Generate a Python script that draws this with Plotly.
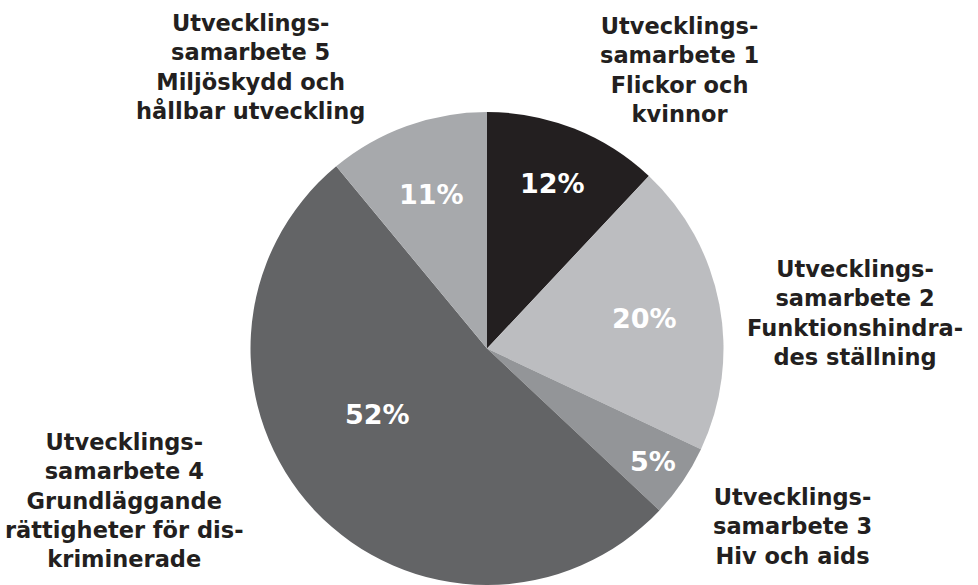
import math
import plotly.graph_objects as go

# ---- data ----
categories = [
    "Utvecklings-<br>samarbete 1<br>Flickor och<br>kvinnor",
    "Utvecklings-<br>samarbete 2<br>Funktionshindra-<br>des ställning",
    "Utvecklings-<br>samarbete 3<br>Hiv och aids",
    "Utvecklings-<br>samarbete 4<br>Grundläggande<br>rättigheter för dis-<br>kriminerade",
    "Utvecklings-<br>samarbete 5<br>Miljöskydd och<br>hållbar utveckling",
]
values = [12, 20, 5, 52, 11]
colors = ["#231f20", "#bcbdc0", "#939598", "#636466", "#a7a9ac"]

# ---- layout helpers ----
W, H = 978, 585
cx_px = 487
dom_top = 112
dom_y = [0, 1 - dom_top / H]
R = (H - dom_top) / 2
cy_px = dom_top + R
half_w = 0.3
dom_x = [cx_px / W - half_w, cx_px / W + half_w]

# percent label placement: fraction of radius and angle offset from slice middle (deg)
pct_r = [0.75, 0.68, 0.85, 0.54, 0.69]
pct_da = [0, 0, 0, 12, 0]
# outside category label positions (paper, px from left / top)
cat_pos = [(679, 70), (855, 313), (792, 526), (124, 500), (251, 67)]

FONT = "DejaVu Sans"

fig = go.Figure()
fig.add_trace(go.Pie(
    labels=categories,
    values=values,
    marker=dict(colors=colors, line=dict(width=0)),
    sort=False,
    direction="clockwise",
    rotation=0,
    textinfo="none",
    hoverinfo="label+percent",
    domain=dict(x=dom_x, y=dom_y),
    showlegend=False,
))

annotations = []
total = sum(values)
cum = 0
for i, v in enumerate(values):
    mid = (cum + v / 2) / total * 2 * math.pi + math.radians(pct_da[i])
    cum += v
    x = cx_px + pct_r[i] * R * math.sin(mid)
    y = cy_px - pct_r[i] * R * math.cos(mid)
    annotations.append(dict(
        x=x / W, y=1 - y / H, xref="paper", yref="paper",
        text=f"{round(v / total * 100)}%", showarrow=False,
        font=dict(family=FONT, size=27, color="white", weight="bold"),
        xanchor="center", yanchor="middle",
    ))

for (px, py), lab in zip(cat_pos, categories):
    annotations.append(dict(
        x=px / W, y=1 - py / H, xref="paper", yref="paper",
        text=lab, showarrow=False, align="center",
        font=dict(family=FONT, size=22.5, color="#231f20", weight="bold"),
        xanchor="center", yanchor="middle",
    ))

fig.update_layout(
    width=W, height=H,
    margin=dict(l=0, r=0, t=0, b=0),
    paper_bgcolor="white",
    plot_bgcolor="white",
    annotations=annotations,
)

fig.write_html("out.html")
